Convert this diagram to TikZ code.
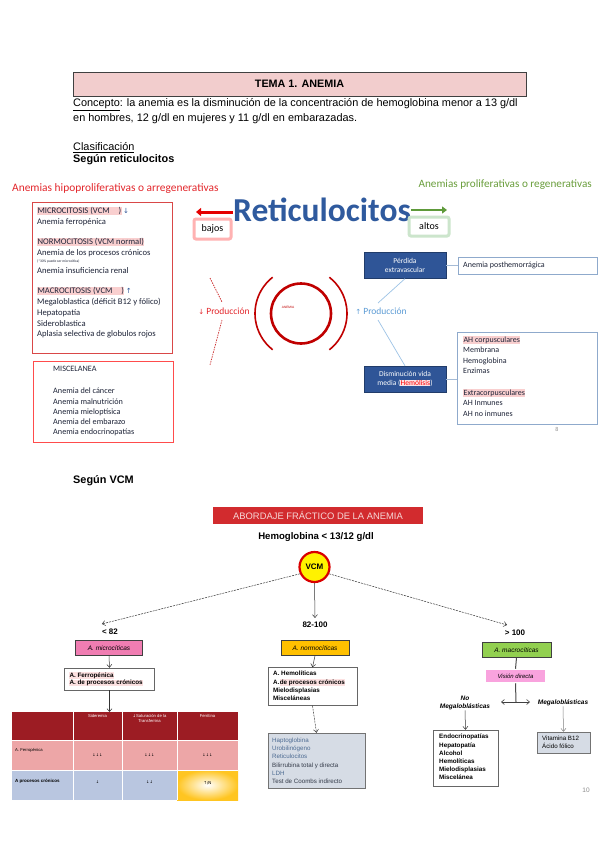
\documentclass[tikz,border=0pt]{standalone}
\usepackage{fontspec}
\setmainfont{Liberation Sans}
\newfontfamily\carl{Carlito}
\newfontfamily\djv{DejaVu Sans}
\usetikzlibrary{arrows.meta,calc,shadows}
\definecolor{headpink}{HTML}{F2CDCD}
\definecolor{hlpink}{HTML}{F9CFCF}
\definecolor{hlpale}{HTML}{FCE1E1}
\definecolor{hipored}{HTML}{E3262B}
\definecolor{progreen}{HTML}{6A9E3C}
\definecolor{arrgreen}{HTML}{5E9A3A}
\definecolor{reticblue}{HTML}{2F5A9E}
\definecolor{boxred}{HTML}{D94848}
\definecolor{navy}{HTML}{1E2438}
\definecolor{anemred}{HTML}{C00000}
\definecolor{prodblue}{HTML}{5B9BD5}
\definecolor{linkblue}{HTML}{9DC3E6}
\definecolor{darkbox}{HTML}{2F5597}
\definecolor{edgeblue}{HTML}{8FAACC}
\definecolor{bannerred}{HTML}{D22B2E}
\definecolor{bannertext}{HTML}{F6D6D6}
\definecolor{micropink}{HTML}{F07DB2}
\definecolor{normoyel}{HTML}{FFC000}
\definecolor{macrogreen}{HTML}{92D050}
\definecolor{visionpink}{HTML}{F9A3DE}
\definecolor{grayblue}{HTML}{D6DCE5}
\definecolor{tabhead}{HTML}{9C1C23}
\definecolor{tabrow1}{HTML}{EDA6A7}
\definecolor{tabrow2}{HTML}{B9C6E0}
\definecolor{tabyel}{HTML}{FFC521}
\definecolor{labtext}{HTML}{4D6B92}
\definecolor{labdark}{HTML}{333A48}
\definecolor{hemobg}{HTML}{FBE3E6}
\newcommand\hl[1]{{\setlength{\fboxsep}{0.4pt}\colorbox{hlpink}{#1}}}
\newcommand\hlb[1]{{\setlength{\fboxsep}{0.3pt}\colorbox{hlpale}{#1}}}
\newcommand\fsz[2]{\fontsize{#1}{#2}\selectfont}
\begin{document}
\begin{tikzpicture}[x=1pt,y=-1pt,
  tl/.style={anchor=west,inner sep=0pt,align=left},
  tc/.style={inner sep=0pt,align=center},
  dbox/.style={fill=darkbox,draw=darkbox!70!black,line width=0.3pt,text=white,font=\carl\fsz{7.5}{9.5},align=center,minimum width=82pt,minimum height=26pt,inner sep=0pt},
  wbox/.style={draw=edgeblue,line width=0.6pt,fill=white,inner sep=0pt},
  redbox/.style={draw=boxred,line width=0.8pt,inner sep=0pt},
  shad/.style={drop shadow={shadow xshift=0.8pt,shadow yshift=-0.8pt,opacity=0.35}},
  cat/.style={draw=black!75,line width=0.5pt,font=\itshape\fsz{6.5}{7},minimum height=15pt,inner sep=0pt,shad},
  lbox/.style={draw=black!60,line width=0.5pt,fill=white,inner sep=0pt,shad},
  arr/.style={-{Straight Barb[length=3pt,width=5pt]},line width=0.5pt,draw=black!80},
  darr/.style={arr,dash pattern=on 2pt off 1pt},
  rdash/.style={draw=anemred!80,line width=0.7pt,dash pattern=on 1.5pt off 1pt},
  link/.style={draw=linkblue,line width=0.7pt},
]
\useasboundingbox (0,0) rectangle (600,848);
\fill[white] (0,0) rectangle (600,848);

% ---------- header ----------
\node[draw=black!75,line width=0.9pt,fill=headpink,minimum width=453pt,minimum height=24pt,inner sep=0pt,font=\bfseries\fsz{10.8}{12}] (tema) at (299.5,84) {TEMA 1. ANEMIA};
\node[tl,font=\fsz{10.9}{12}] (concept1) at (73,105) {\underline{Concepto}: la anemia es la disminución de la concentración de hemoglobina menor a 13 g/dl};
\node[tl,font=\fsz{10.9}{12}] (concept2) at (73,119) {en hombres, 12 g/dl en mujeres y 11 g/dl en embarazadas.};
\node[tl,font=\fsz{10.9}{12}] (clasif) at (73,148) {\underline{Clasificación}};
\node[tl,font=\bfseries\fsz{10.9}{12}] (segun1) at (73,160) {Según reticulocitos};

% ---------- reticulocitos ----------
\node[tl,font=\carl\fsz{11.4}{13},text=hipored] (hipo) at (12,189) {Anemias hipoproliferativas o arregenerativas};
\node[anchor=east,inner sep=0pt,font=\carl\fsz{11.2}{13},text=progreen] (prolif) at (592,185) {Anemias proliferativas o regenerativas};
\node[tc,font=\carl\bfseries\fsz{33.5}{36},text=reticblue] (retic) at (322,210) {Reticulocitos};
\node[draw=red!30,line width=3pt,fill=white,rounded corners=2pt,minimum width=37pt,minimum height=20pt,inner sep=0pt,font=\carl\fsz{10}{11}] (bajos) at (212.5,229) {bajos};
\node[draw=green!50!black!20,line width=3pt,fill=white,rounded corners=2pt,minimum width=40pt,minimum height=19pt,inner sep=0pt,font=\carl\fsz{10}{11}] (altos) at (429,226.5) {altos};
\coordinate (redtip) at (196,212);
\coordinate (greentip) at (447,210);
\draw[red!90!black,line width=3pt,-{Triangle[length=5pt,width=8pt]}] ([yshift=-2pt]retic.west) -- (redtip);
\draw[arrgreen,line width=2.5pt,-{Triangle[length=5pt,width=7pt]}] (retic.east) -- (greentip);

% left box
\node[redbox,minimum width=140pt,minimum height=151pt,fill=white,drop shadow={shadow xshift=1pt,shadow yshift=-1pt,opacity=0.25,fill=red!40}] (hipobox) at (102,277.5) {};
\begin{scope}[every node/.style={tl,font=\carl\fsz{8.6}{10},text=navy}]
\node (m1) at (37,211) {\hl{MICROCITOSIS (VCM\hspace{9pt})}\,{\color{darkbox}\djv\fsz{7}{8}↓}};
\node (m2) at (37,222) {Anemia ferropénica};
\node (n1) at (37,242) {\hl{NORMOCITOSIS (VCM normal)}};
\node (n2) at (37,253) {Anemia de los procesos crónicos};
\node[font=\carl\fsz{3.6}{4}] (n3) at (37,261.5) {(*30\% puede ser microcítica)};
\node (n4) at (37,271) {Anemia insuficiencia renal};
\node (a1) at (37,291) {\hl{MACROCITOSIS (VCM\hspace{9pt})}\,{\color{darkbox}\djv\fsz{7}{8}↑}};
\node (a2) at (37,302) {Megaloblastica (déficit B12 y fólico)};
\node (a3) at (37,313) {Hepatopatía};
\node (a4) at (37,324) {Sideroblastica};
\node (a5) at (37,334.5) {Aplasia selectiva de globulos rojos};
\end{scope}

% misc box
\node[redbox,draw=red!70,minimum width=140pt,minimum height=81pt] (miscbox) at (103,401.5) {};
\begin{scope}[every node/.style={tl,font=\carl\fsz{8.2}{10},text=navy}]
\node (x0) at (53,369) {MISCELANEA};
\node (x1) at (53,391) {Anemia del cáncer};
\node (x2) at (53,401.5) {Anemia malnutrición};
\node (x3) at (53,412) {Anemia mieloptísica};
\node (x4) at (53,422) {Anemia del embarazo};
\node (x5) at (53,432) {Anemia endocrinopatías};
\end{scope}

% anemia circle
\node[circle,draw=anemred,line width=2.6pt,minimum size=60pt,inner sep=0pt] (anemia) at (301,313.5) {};
\node[tc,font=\fsz{3.2}{4},text=anemred] (anemialbl) at (288,307) {ANEMIA};
\draw[anemred,line width=1.6pt] ([shift={(128:46pt)}]anemia.center) arc[start angle=128,end angle=232,radius=46pt];
\draw[anemred,line width=1.6pt] ([shift={(-52:46pt)}]anemia.center) arc[start angle=-52,end angle=52,radius=46pt];

\node[tc,font=\carl\fsz{9.5}{11},text=hipored] (proddown) at (224,311) {{\djv\fsz{7}{8}↓} Producción};
\node[tc,font=\carl\fsz{9.5}{11},text=prodblue] (produp) at (381,311) {{\djv\fsz{7}{8}↑} Producción};
\coordinate (d1a) at (210,278);
\coordinate (d1b) at (222,302);
\coordinate (d2a) at (222,320);
\coordinate (d2b) at (210,365);
\draw[rdash] (d1a) -- (d1b);
\draw[rdash] (d2a) -- (d2b);

% right side
\node[dbox] (perdida) at (405,265.5) {Pérdida\\extravascular};
\node[dbox] (dismin) at (405,379) {Disminución vida\\media ({\setlength{\fboxsep}{0.3pt}\colorbox{hemobg}{\color{red}Hemólisis}})};
\coordinate (pu1) at (378,303);
\coordinate (pu2) at (378,320);
\draw[link] (pu1) -- (perdida.south);
\draw[link] (pu2) -- (dismin.north);
\node[wbox,minimum width=139pt,minimum height=17pt] (posthem) at (527.5,265.5) {};
\node[tl,font=\carl\fsz{8}{10},text=navy] (posthemtxt) at (463,265.5) {Anemia posthemorrágica};
\node[wbox,minimum width=140pt,minimum height=92pt] (ahbox) at (527,378) {};
\node[anchor=north west,inner sep=0pt,align=left,font=\carl\fsz{8}{10.6},text=navy] (ahtxt) at (463,336) {\hl{AH corpusculares}\\Membrana\\Hemoglobina\\Enzimas\\[10.6pt]\hl{Extracorpusculares}\\AH Inmunes\\AH no inmunes};
\draw[link,draw=edgeblue!80] (perdida.east) -- (posthem.west);
\draw[link,draw=edgeblue!80] (dismin.east) -- (ahbox.west|-dismin.east);
\node[tc,font=\carl\fsz{6}{7},text=black!45] (page8) at (557,429) {8};

% ---------- VCM section ----------
\node[tl,font=\bfseries\fsz{10.9}{12}] (segun2) at (73,481) {Según VCM};
\node[fill=bannerred,minimum width=210pt,minimum height=17pt,inner sep=0pt,font=\fsz{9.4}{10},text=bannertext] (banner) at (318,515.5) {ABORDAJE FRÁCTICO DE LA ANEMIA};
\node[tc,font=\bfseries\fsz{9.6}{11}] (hemo) at (316,537) {Hemoglobina < 13/12 g/dl};
\node[circle,fill=yellow,draw=red!85!black,line width=2.2pt,minimum size=30pt,inner sep=0pt,font=\bfseries\fsz{8}{9}] (vcm) at (314.5,567) {VCM};

\node[tc,font=\bfseries\fsz{8}{9}] (lt82) at (110,632) {< 82};
\node[tc,font=\bfseries\fsz{8}{9}] (mid) at (315,625) {82-100};
\node[tc,font=\bfseries\fsz{8}{9}] (gt100) at (515,633) {> 100};
\draw[darr] (vcm.205) -- ([yshift=5pt]lt82.north west);
\draw[darr] (vcm.-25) -- ([yshift=5pt,xshift=-8pt]gt100.north);
\draw[arr] (vcm.south) -- ([yshift=4pt]mid.north);

\node[cat,fill=micropink,minimum width=67pt] (micro) at (109,648) {A. microcíticas};
\node[cat,fill=normoyel,minimum width=68pt] (normo) at (315,648) {A. normocíticas};
\node[cat,fill=macrogreen,minimum width=69pt] (macro) at (516.5,650) {A. macrocíticas};

% microcytic branch
\node[lbox,minimum width=90pt,minimum height=22pt] (ferro) at (109.5,679) {};
\node[anchor=north west,inner sep=0pt,align=left,font=\bfseries\fsz{6.3}{7.5}] (ferrotxt) at (69,672) {\hlb{A. Ferropénica}\\\hlb{A. de procesos crónicos}};
\draw[arr] (micro.south) -- (ferro.north);
\coordinate (tabtop) at (109.5,712);
\draw[arr] (ferro.south) -- (tabtop);

% table
\fill[tabhead] (12,712) rectangle (238,740);
\fill[tabrow1] (12,740) rectangle (238,770);
\fill[tabrow2] (12,770) rectangle (177,800);
\shade[inner color=white,outer color=tabyel] (177,770) rectangle (238,800);
\draw[white,line width=0.8pt] (73,712) -- (73,800) (122,712) -- (122,800) (177,712) -- (177,800) (12,740) -- (238,740) (12,770) -- (238,770);
\begin{scope}[every node/.style={inner sep=0pt,align=center,font=\fsz{4.2}{5}}]
\node[anchor=north,text=white] (h1) at (97.5,714.5) {Sideremia};
\node[anchor=north,text=white] (h2) at (149.5,714.5) {{\djv\fsz{4}{5}↓}Saturación de la\\Transferrina};
\node[anchor=north,text=white] (h3) at (207.5,714.5) {Ferritina};
\node[anchor=west] (r1) at (15,750) {A. Ferropénica};
\node[anchor=west,font=\bfseries\fsz{4.5}{5}] (r2) at (15,781) {A procesos crónicos};
\node[font=\djv\fsz{4}{5}] (v11) at (97.5,755) {↓↓↓};
\node[font=\djv\fsz{4}{5}] (v12) at (149.5,755) {↓↓↓};
\node[font=\djv\fsz{4}{5}] (v13) at (207.5,755) {↓↓↓};
\node[font=\djv\fsz{4}{5}] (v21) at (97.5,782) {↓};
\node[font=\djv\fsz{4}{5}] (v22) at (149.5,782) {↓↓};
\node[font=\djv\fsz{4}{5}] (v23) at (207.5,783) {↑/N};
\end{scope}

% normocytic branch
\node[lbox,minimum width=89pt,minimum height=38pt] (normolist) at (312.5,686.5) {};
\node[anchor=north west,inner sep=0pt,align=left,font=\bfseries\fsz{6.3}{8.3}] (normotxt) at (273,671) {A. Hemolíticas\\A.\hlb{de procesos crónicos}\\Mielodisplasias\\Misceláneas};
\draw[arr] (normo.south) -- (normolist.north);
\node[draw=black!55,line width=0.5pt,fill=grayblue,minimum width=97pt,minimum height=55pt,inner sep=0pt,shad] (labbox) at (316.5,760.5) {};
\node[anchor=north west,inner sep=0pt,align=left,font=\fsz{6.2}{8.3}] (labtxt) at (272,737.5) {\textcolor{labtext}{Haptoglobina}\\\textcolor{labtext}{Urobilinógeno}\\\textcolor{labtext}{Reticulocitos}\\\textcolor{labdark}{Bilirrubina total y directa}\\\textcolor{labtext}{LDH}\\\textcolor{labdark}{Test de Coombs indirecto}};
\draw[darr] (normolist.south) -- (labbox.north);

% macrocytic branch
\node[fill=visionpink,draw=white,line width=1.5pt,minimum width=60pt,minimum height=13pt,inner sep=0pt,font=\itshape\fsz{6}{7},shad] (vision) at (515.5,676) {Visión directa};
\coordinate (junc) at (516,702);
\coordinate (jl) at (501,702);
\coordinate (jr) at (530,702);
\draw[black!70,line width=1pt] (macro.south) -- (vision.north);
\draw[black!70,line width=1pt] (vision.south) -- (junc);
\draw[black!75,line width=0.6pt,{Straight Barb[length=3pt,width=5pt]}-{Straight Barb[length=3pt,width=5pt]}] (jl) -- (jr);
\node[tc,font=\bfseries\itshape\fsz{6.5}{8.5}] (nomeg) at (465,703) {No\\Megaloblásticas};
\node[tc,font=\bfseries\itshape\fsz{6.5}{8.5}] (meg) at (563,703) {Megaloblásticas};
\node[lbox,minimum width=65pt,minimum height=56pt] (nomegbox) at (465.5,758) {};
\node[anchor=north west,inner sep=0pt,align=left,font=\bfseries\fsz{6.3}{8.2}] (nomegtxt) at (439,734) {Endocrinopatías\\Hepatopatía\\Alcohol\\Hemolíticas\\Mielodisplasias\\Miscelánea};
\node[draw=black!55,line width=0.5pt,fill=grayblue,minimum width=53pt,minimum height=21pt,inner sep=0pt,shad] (megbox) at (563.5,742.5) {};
\node[anchor=north west,inner sep=0pt,align=left,font=\fsz{6.2}{8}] (megtxt) at (542,735.5) {Vitamina B12\\Ácido fólico};
\draw[arr] (nomeg.south) -- (nomegbox.north);
\draw[arr,draw=black!50] (meg.south) -- (megbox.north);
\node[tc,font=\fsz{6.5}{8},text=black!45] (page10) at (586,790) {10};
\end{tikzpicture}
\end{document}
